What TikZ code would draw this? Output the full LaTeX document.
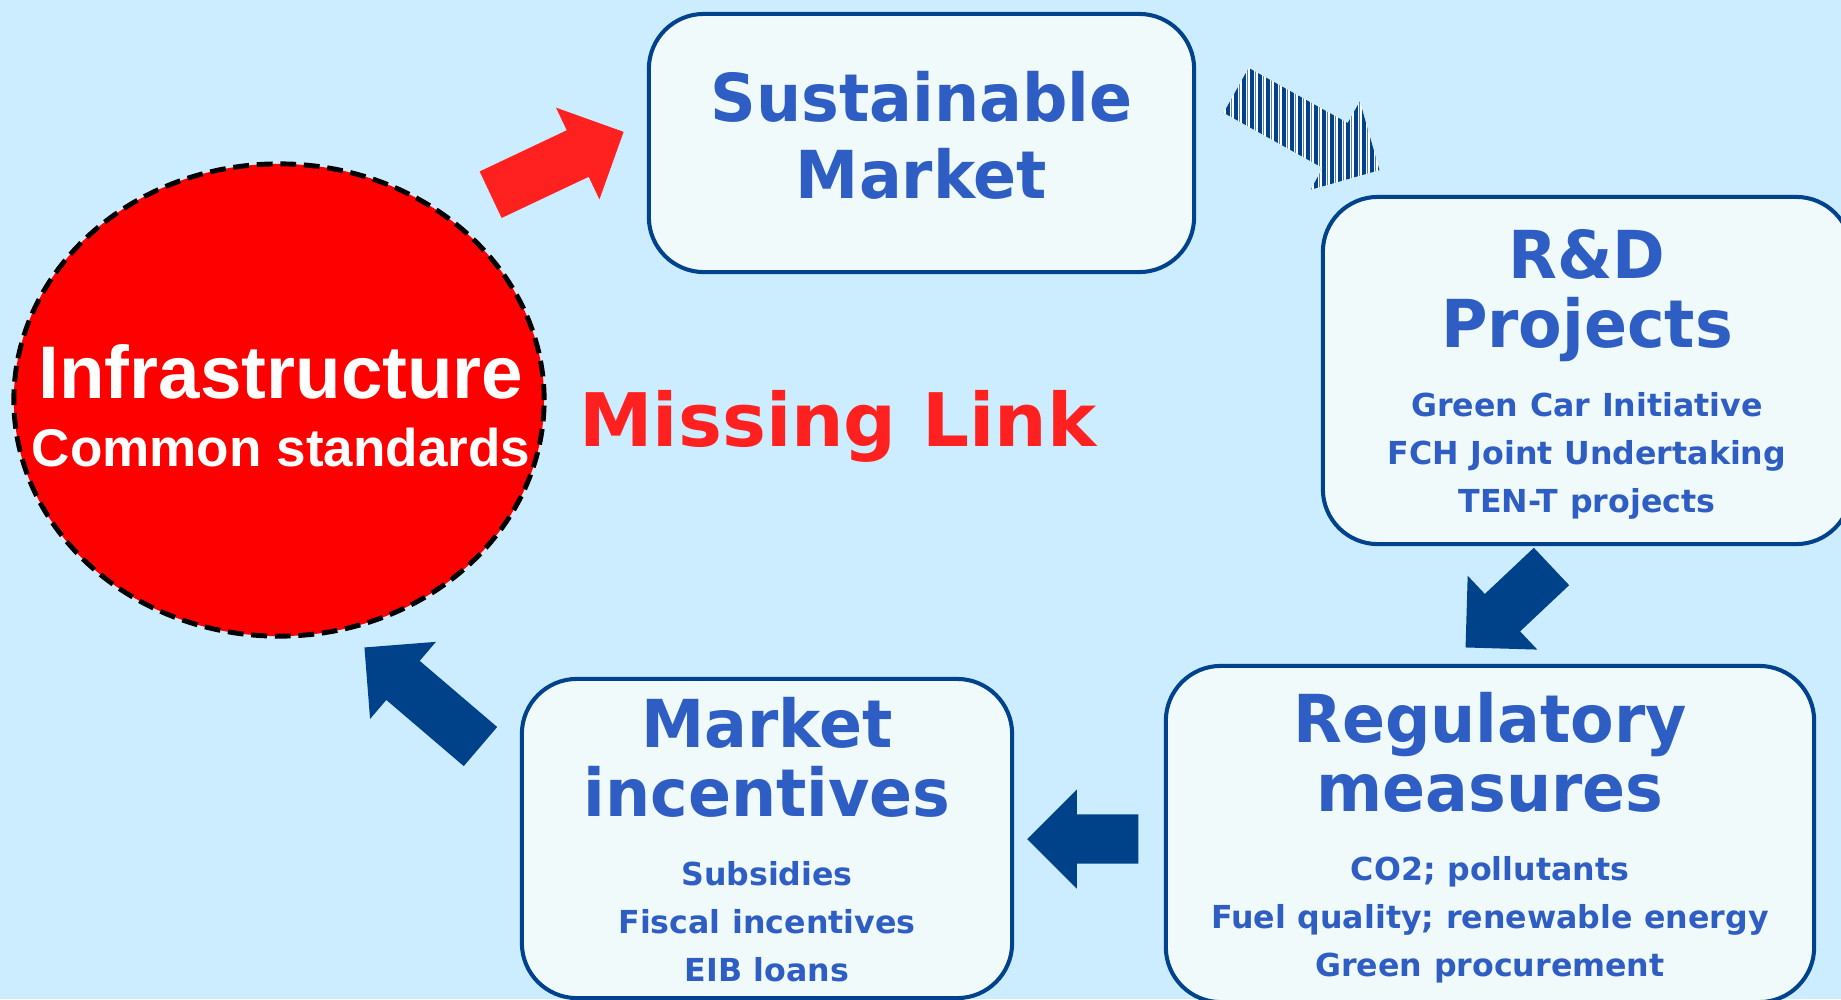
\documentclass[tikz,border=0pt]{standalone}
\usepackage{fontspec}
\setmainfont{DejaVu Sans}
\newfontfamily\titlefamily[FakeStretch=0.96]{DejaVu Sans}
\newfontfamily\arialfont{Liberation Sans}
\usetikzlibrary{shapes.geometric, shapes.arrows}

\definecolor{bgblue}{RGB}{204,236,255}
\definecolor{boxfill}{RGB}{240,250,250}
\definecolor{boxline}{RGB}{0,66,140}
\definecolor{textblue}{RGB}{46,94,195}
\definecolor{arrowblue}{RGB}{0,66,138}
\definecolor{stripeblue}{RGB}{80,125,200}
\definecolor{linkred}{RGB}{255,32,32}
\definecolor{infrared}{RGB}{255,0,0}

\newcommand{\titlefont}{\titlefamily\bfseries\fontsize{18.8}{19.6}\selectfont}
\newcommand{\listfont}{\normalfont\bfseries\fontsize{9}{13.65}\selectfont}

\begin{document}
\begin{tikzpicture}[
    x=0.01cm, y=-0.01cm,
    box/.style={draw=boxline, line width=1.15pt, fill=boxfill, rounded corners=0.55cm, inner sep=0pt},
    boxtext/.style={text=textblue, align=center, inner sep=0pt},
    bigarrow/.style={single arrow, draw=none, inner xsep=0pt, inner ysep=0.25cm, single arrow head extend=0.25cm, anchor=tail},
    infra/.style={ellipse, fill=infrared, draw=black, line width=1.4pt, dash pattern=on 4.5pt off 2.2pt, inner sep=0pt}
]
% background
\fill[bgblue] (0,0) rectangle (1841,999);
\useasboundingbox (0,0) rectangle (1841,999);

% boxes
\node[box, minimum width=5.45cm, minimum height=2.58cm] (market) at (921.5,143) {};
\node[box, minimum width=5.28cm, minimum height=3.47cm] (rd) at (1587,370.5) {};
\node[box, minimum width=6.48cm, minimum height=3.36cm] (reg) at (1490,834) {};
\node[box, minimum width=4.90cm, minimum height=3.19cm] (incent) at (767,838.5) {};

% box texts
\node[boxtext, text width=5.2cm] (markettext) at (921.5,135) {\titlefont Sustainable\\[2.3pt]Market\par};
\node[boxtext, text width=5.1cm] (rdtext) at (1587,374.5) {\titlefont R\&D\\Projects\par\vskip6.2pt\listfont Green Car Initiative\\FCH Joint Undertaking\\TEN-T projects\par};
\node[boxtext, text width=6.3cm] (regtext) at (1490,838) {\titlefont Regulatory\\measures\par\vskip6pt\listfont CO2; pollutants\\Fuel quality; renewable energy\\Green procurement\par};
\node[boxtext, text width=4.7cm] (incenttext) at (767,840) {\titlefont Market\\incentives\par\vskip6pt\listfont Subsidies\\Fiscal incentives\\EIB loans\par};

% missing link
\node[infra, minimum width=5.3cm, minimum height=4.72cm] (infra) at (279,400) {};
\node[text=white, align=center, inner sep=0pt, font=\arialfont\bfseries\fontsize{21.2}{19.3}\selectfont] (infratext) at (281,406) {Infrastructure\\{\fontsize{15.1}{19.3}\selectfont Common standards}};
\node[font=\bfseries\fontsize{21}{24}\selectfont, text=linkred, anchor=base, inner sep=0pt] (link) at (838,446) {Missing Link};

% block arrows
\node[bigarrow, fill=linkred, minimum height=1.47cm, rotate=25.3] (toMarket) at (490,195) {};
\node[bigarrow, fill=white, minimum height=1.64cm, rotate=-29.1,
      path picture={\pgftransformreset
        \foreach \k in {1196,1204,...,1396} {
          \draw[arrowblue, line width=1pt] (\k,40) -- (\k,220);
          \draw[stripeblue, line width=0.4pt] (\k+3.5,40) -- (\k+3.5,220);
        }}] (toRD) at (1235.5,90) {};
\node[bigarrow, fill=arrowblue, minimum height=1.18cm, rotate=223.3] (toReg) at (1552,566) {};
\node[bigarrow, fill=arrowblue, minimum height=1.11cm, rotate=180, inner ysep=0.24cm] (toIncent) at (1139,839) {};
\node[bigarrow, fill=arrowblue, minimum height=1.525cm, rotate=139.5] (toInfra) at (481,747) {};
\end{tikzpicture}
\end{document}
